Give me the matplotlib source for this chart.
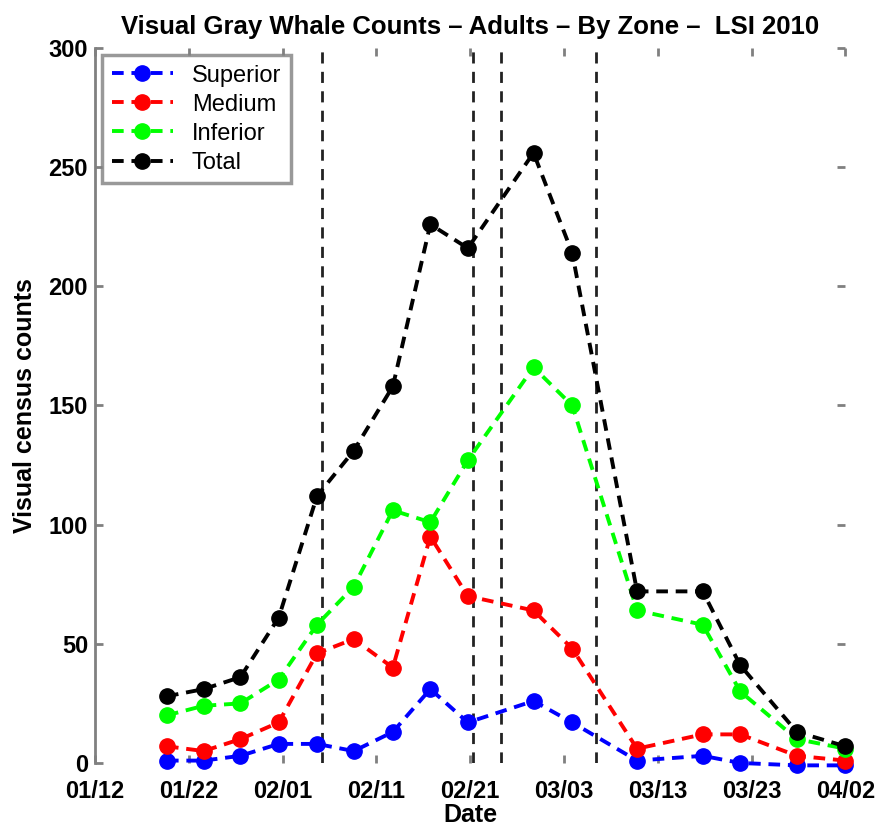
import matplotlib
matplotlib.use('Agg')
import matplotlib.pyplot as plt
import matplotlib.dates as mdates
import pandas as pd

plt.rcParams['font.family'] = ['Liberation Sans', 'DejaVu Sans']

# survey dates (LSI 2010)
dates = pd.to_datetime([
    '2010-01-19 16:00', '2010-01-23 14:00', '2010-01-27 12:00', '2010-01-31 14:00',
    '2010-02-04 16:00', '2010-02-08 14:00', '2010-02-12 18:00', '2010-02-16 18:00',
    '2010-02-20 18:00', '2010-02-27 18:00', '2010-03-03 21:00', '2010-03-10 19:00',
    '2010-03-17 19:00', '2010-03-21 19:00', '2010-03-27 20:00', '2010-04-02 00:00'])

superior = [1, 1, 3, 8, 8, 5, 13, 31, 17, 26, 17, 1, 3, 0, -1, -1]
medium = [7, 5, 10, 17, 46, 52, 40, 95, 70, 64, 48, 6, 12, 12, 3, 1]
inferior = [20, 24, 25, 35, 58, 74, 106, 101, 127, 166, 150, 64, 58, 30, 10, 6]
total = [28, 31, 36, 61, 112, 131, 158, 226, 216, 256, 214, 72, 72, 41, 13, 7]

# vertical reference lines
vlines = pd.to_datetime(['2010-02-05 04:00', '2010-02-21 07:00',
                         '2010-02-24 08:00', '2010-03-06 09:00'])

tick_dates = pd.date_range('2010-01-12', '2010-04-02', freq='10D')

fig = plt.figure(figsize=(8.88, 8.26), dpi=100)
ax = fig.add_axes([0.107, 0.0763, 0.845, 0.8656])

for d in vlines:
    ax.axvline(d, color='#222222', ls=(0, (4, 3)), lw=2, zorder=1)

series = [('Superior', superior, 'b'), ('Medium', medium, 'r'),
          ('Inferior', inferior, 'lime'), ('Total', total, 'k')]
for name, vals, c in series:
    ax.plot(dates, vals, ls='--', color=c, marker='o', markersize=11,
            lw=2.8, dashes=(3, 2), label=name, zorder=3, clip_on=False)

ax.set_xlim(tick_dates[0], tick_dates[-1])
ax.set_ylim(0, 300)
ax.set_xticks(tick_dates)
ax.xaxis.set_major_formatter(mdates.DateFormatter('%m/%d'))
ax.set_yticks(range(0, 301, 50))

for s in ['top', 'right', 'bottom']:
    ax.spines[s].set_visible(False)
ax.spines['left'].set_color('gray')
ax.spines['left'].set_linewidth(2)
ax.tick_params(direction='in', length=6, width=2, color='gray',
               top=True, right=True, labelsize=17)
ax.tick_params(axis='x', pad=12)
ax.tick_params(axis='y', pad=5)
for lab in ax.get_xticklabels() + ax.get_yticklabels():
    lab.set_fontweight('bold')

ax.set_title('Visual Gray Whale Counts \u2013 Adults \u2013 By Zone \u2013  LSI 2010',
             fontsize=18.5, fontweight='bold', pad=10)
ax.set_xlabel('Date', fontsize=18, fontweight='bold', labelpad=0)
ax.set_ylabel('Visual census counts', fontsize=18, fontweight='bold', labelpad=8)

leg = ax.legend(loc='upper left', fontsize=17, frameon=True, fancybox=False,
                borderaxespad=0.3, handlelength=2.6, labelspacing=0.3,
                borderpad=0.4)
leg.get_frame().set_edgecolor('gray')
leg.get_frame().set_linewidth(2.5)

fig.savefig('out.png', dpi=100)
